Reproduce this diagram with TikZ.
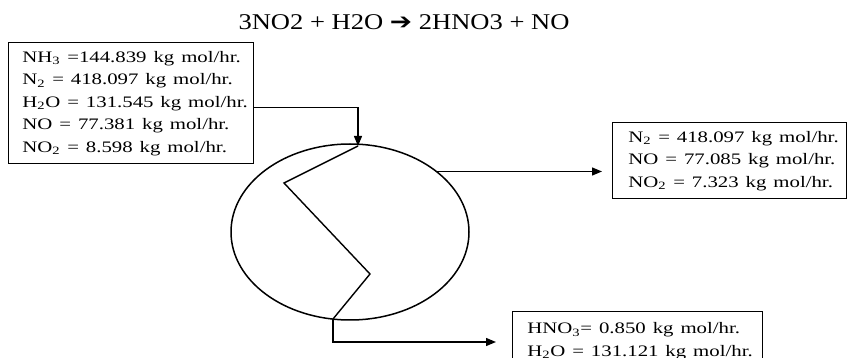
\documentclass[tikz,border=0pt]{standalone}
\usepackage{fontspec}
\setmainfont{Liberation Serif}
\newfontfamily\symfont{DejaVu Sans}
\usetikzlibrary{arrows.meta,shapes.geometric}

\newcommand{\streamtext}[1]{\scalebox{1.3}[1]{\begin{tabular}{@{}l@{}}#1\end{tabular}}}

\tikzset{
  databox/.style={draw, line width=0.8pt, anchor=north west, align=left,
    inner ysep=0pt, font=\fontsize{16}{22.5}\selectfont},
  flow/.style={line width=1.3pt, -{Triangle[length=10pt,width=8pt]}},
  wall/.style={line width=1.4pt}
}

\begin{document}
\begin{tikzpicture}[x=1pt,y=-1pt]
  \useasboundingbox (0,0) rectangle (847,358);
  \clip (0,0) rectangle (847,358);
  % reaction
  \node[font=\fontsize{22.5}{26}\selectfont] (eqn) at (404,22)
    {\scalebox{1.18}[1]{3NO2 + H2O {\symfont ➔} 2HNO3 + NO}};
  % streams in and out
  \node[databox, text width=217pt, inner xsep=14pt, minimum height=121pt] (feed) at (8,42)
    {\streamtext{NH\textsubscript{3} =144.839 kg mol/hr.\\
     N\textsubscript{2} = 418.097 kg mol/hr.\\
     H\textsubscript{2}O = 131.545 kg mol/hr.\\
     NO = 77.381 kg mol/hr.\\
     NO\textsubscript{2} = 8.598 kg mol/hr.}};
  \node[databox, text width=202pt, inner xsep=16pt, minimum height=76pt] (gasout) at (612,122)
    {\streamtext{N\textsubscript{2} = 418.097 kg mol/hr.\\
     NO = 77.085 kg mol/hr.\\
     NO\textsubscript{2} = 7.323 kg mol/hr.}};
  \node[databox, text width=220pt, inner xsep=15pt, minimum height=58pt] (acid) at (512,311)
    {\streamtext{HNO\textsubscript{3}= 0.850 kg mol/hr.\\
     H\textsubscript{2}O = 131.121 kg mol/hr.}};
  % absorber
  \node[ellipse, draw, line width=1.5pt, minimum width=238pt, minimum height=176pt,
    inner sep=0pt, outer sep=0pt] (reactor) at (350,232) {};
  \coordinate (zt) at (358,146);
  \coordinate (zl) at (284,183);
  \coordinate (zr) at (370,274);
  \coordinate (zb) at (333,319);
  \coordinate (acidin) at (496,342);
  \draw[wall] (zt) -- (zl) -- (zr) -- (zb);
  % connectors
  \draw[flow] ([yshift=-4.5pt]feed.east) -| (zt);
  \draw[flow, shorten >=10pt] (reactor.35) -- (reactor.35 -| gasout.west);
  \draw[flow] (zb) |- (acidin);
\end{tikzpicture}
\end{document}
